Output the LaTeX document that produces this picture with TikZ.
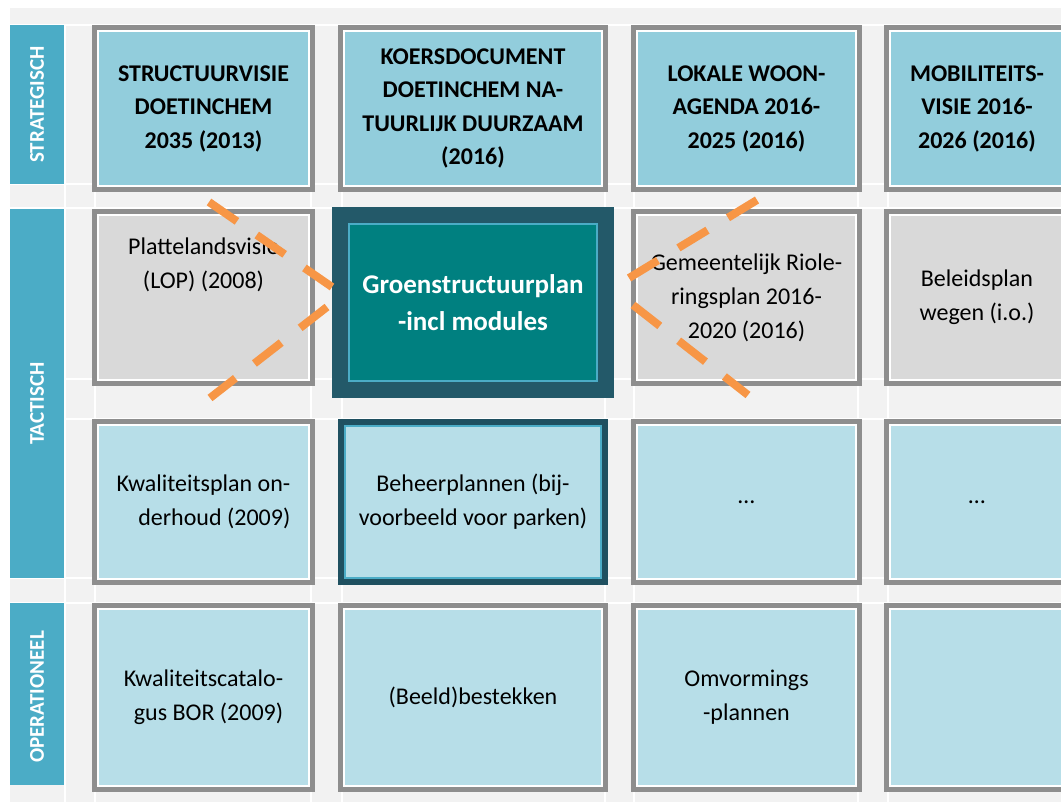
\documentclass[tikz,border=0pt]{standalone}
\usepackage{fontspec}
\setmainfont{Carlito}
\usetikzlibrary{positioning}

\definecolor{bggray}{HTML}{F2F2F2}
\definecolor{bandblue}{HTML}{4BACC6}
\definecolor{headblue}{HTML}{92CDDC}
\definecolor{cellgray}{HTML}{D9D9D9}
\definecolor{cellblue}{HTML}{B7DEE8}
\definecolor{framegray}{HTML}{8E8E8E}
\definecolor{darkteal}{HTML}{235969}
\definecolor{deepteal}{HTML}{1F5060}
\definecolor{mainteal}{HTML}{008080}
\definecolor{dashorange}{HTML}{F79646}

\tikzset{
  cell/.style={draw=white, line width=2pt, inner sep=0pt, align=center,
    font=\fontsize{24}{34}\selectfont,
    preaction={draw=framegray, line width=12pt}},
  head/.style={cell, fill=headblue, font=\bfseries\fontsize{24}{33.5}\selectfont},
  tact/.style={cell, fill=cellgray},
  oper/.style={cell, fill=cellblue},
  band/.style={fill=bandblue, rotate=90, minimum height=54pt, inner sep=0pt,
    text=white, font=\bfseries\fontsize{21}{21}\selectfont},
  c1/.style={minimum width=211pt}, c2/.style={minimum width=258pt},
  c3/.style={minimum width=219pt}, c4/.style={minimum width=174pt},
  r1/.style={minimum height=155pt}, r2/.style={minimum height=165pt},
  r3/.style={minimum height=154pt}, r4/.style={minimum height=177pt},
  link/.style={draw=dashorange, line width=8pt, dash pattern=on 34pt off 24pt}
}

\begin{document}
\begin{tikzpicture}[x=1pt, y=-1pt]
  \useasboundingbox (0,0) rectangle (1061,802);
  \fill[bggray] (10,8) rectangle (1061,802);
  \foreach \gx in {65,95,311,342,605,634,858,888}
    \draw[white, line width=1.5pt] (\gx,25) -- (\gx,802);
  \foreach \gy in {25,184,208,379,419,578,603}
    \draw[white, line width=1.5pt] (10,\gy) -- (1061,\gy);

  \node[band, minimum width=159pt] (strat) at (37,104.5) {STRATEGISCH};
  \node[band, minimum width=369pt] (tact) at (37,393.5) {TACTISCH\hspace*{20pt}};
  \node[band, minimum width=182pt] (oper) at (37,694) {OPERATIONEEL\hspace*{6pt}};

  \node[head, c1, r1] (sv) at (203.5,108.5) {STRUCTUURVISIE\\DOETINCHEM\\2035 (2013)};
  \node[head, c2, r1] (kd) at (473,108.5) {KOERSDOCUMENT\\DOETINCHEM NA-\\TUURLIJK DUURZAAM\\(2016)};
  \node[head, c3, r1] (lw) at (746.5,108.5) {LOKALE WOON-\\AGENDA 2016-\\2025 (2016)};
  \node[head, c4, r1] (mv) at (977,108.5) {MOBILITEITS-\\VISIE 2016-\\2026 (2016)};

  \node[tact, c1, r2] (pv) at (203.5,297.5) {Plattelandsvisie\\(LOP) (2008)\\~\\~};
  \node[tact, c3, r2] (gr) at (746.5,297.5) {Gemeentelijk Riole-\\ringsplan 2016-\\2020 (2016)};
  \node[tact, c4, r2] (bw) at (977,297.5) {Beleidsplan\\wegen (i.o.)};
  \node[fill=mainteal, draw=bandblue, line width=2pt, inner sep=0pt, align=center,
    minimum width=248pt, minimum height=157pt, text=white,
    font=\bfseries\fontsize{27}{37}\selectfont,
    preaction={draw=darkteal, line width=34pt}] (gsp) at (473,302.5)
    {Groenstructuurplan\\-incl modules};

  \node[oper, c1, r3, align=right] (kp) at (203.5,502) {Kwaliteitsplan on-\\derhoud (2009)};
  \node[oper, minimum width=256pt, minimum height=152pt, draw=bandblue,
    preaction={draw=deepteal, line width=14pt}] (bp) at (473,502)
    {Beheerplannen (bij-\\voorbeeld voor parken)};
  \node[oper, c3, r3] (t3) at (746.5,502) {\dots};
  \node[oper, c4, r3] (t4) at (977,502) {\dots};

  \node[oper, c1, r4, align=right] (kc) at (203.5,697.5) {Kwaliteitscatalo-\\gus BOR (2009)};
  \node[oper, c2, r4] (bb) at (473,697.5) {(Beeld)bestekken};
  \node[oper, c3, r4] (om) at (746.5,697.5) {Omvormings\\-plannen};
  \node[oper, c4, r4] (o4) at (977,697.5) {};

  \coordinate (pv-a) at (209,202);
  \coordinate (gsp-a) at (332,287);
  \coordinate (gsp-b) at (327,307);
  \coordinate (pv-b) at (210,398);
  \coordinate (gr-a) at (757,200);
  \coordinate (gsp-c) at (629,278);
  \coordinate (gsp-d) at (633,305);
  \coordinate (gr-b) at (748,395);
  \draw[link] (pv-a) -- (gsp-a);
  \draw[link] (gsp-b) -- (pv-b);
  \draw[link] (gr-a) -- (gsp-c);
  \draw[link] (gsp-d) -- (gr-b);
\end{tikzpicture}
\end{document}
